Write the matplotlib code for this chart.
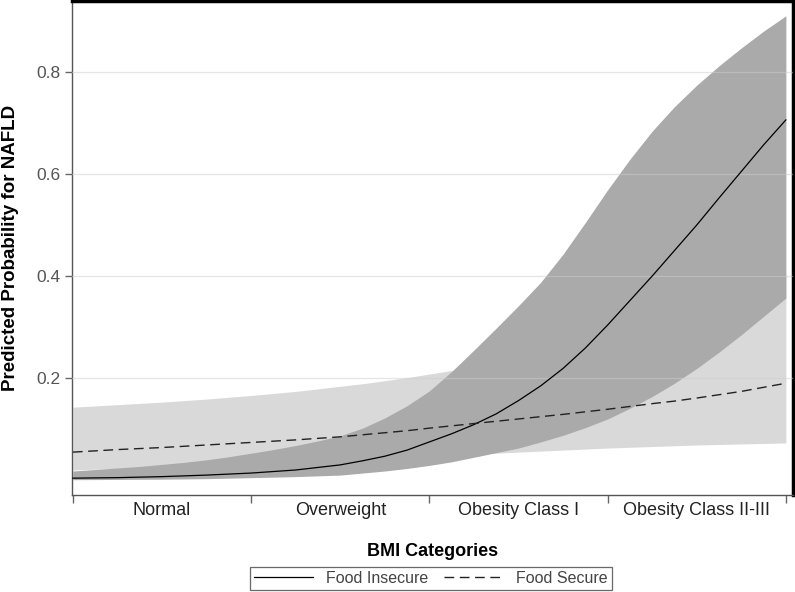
import numpy as np
from matplotlib import pyplot as plt

plt.rcParams['font.family'] = ['Liberation Sans', 'DejaVu Sans']

categories = ['Normal', 'Overweight', 'Obesity Class I', 'Obesity Class II-III']

# positions along the BMI axis (category units, 1 = Normal ... 4 = Class II-III)
bmi_pos = [0.5 + 0.125 * k for k in range(33)]

# food insecure: estimate and 95% CI
insecure_est = [0.004, 0.0045, 0.005, 0.006, 0.007, 0.0085, 0.010, 0.012, 0.014,
                0.017, 0.020, 0.025, 0.030, 0.038, 0.047, 0.059, 0.075,
                0.091, 0.109, 0.130, 0.156, 0.185, 0.219, 0.259, 0.304,
                0.352, 0.400, 0.450, 0.500, 0.553, 0.605, 0.657, 0.706]
insecure_low = [0.001, 0.0012, 0.0015, 0.0018, 0.002, 0.0025, 0.003, 0.004, 0.005,
                0.006, 0.007, 0.0085, 0.010, 0.014, 0.018, 0.023, 0.029,
                0.036, 0.045, 0.054, 0.063, 0.075, 0.088, 0.103, 0.120,
                0.141, 0.164, 0.190, 0.219, 0.251, 0.285, 0.321, 0.357]
insecure_high = [0.018, 0.021, 0.024, 0.027, 0.031, 0.035, 0.040, 0.046, 0.053,
                 0.060, 0.068, 0.077, 0.087, 0.102, 0.122, 0.146, 0.175,
                 0.213, 0.255, 0.298, 0.342, 0.388, 0.443, 0.505, 0.569,
                 0.629, 0.684, 0.732, 0.774, 0.812, 0.847, 0.880, 0.910]

# food secure: estimate and 95% CI
secure_est = [0.055, 0.0575, 0.060, 0.062, 0.064, 0.0665, 0.069, 0.0715, 0.074,
              0.0765, 0.079, 0.082, 0.085, 0.089, 0.093, 0.097, 0.102,
              0.1065, 0.111, 0.1155, 0.120, 0.1245, 0.129, 0.134, 0.139,
              0.1445, 0.150, 0.155, 0.161, 0.1675, 0.174, 0.182, 0.190]
secure_low = [0.020, 0.0215, 0.023, 0.0245, 0.026, 0.0275, 0.029, 0.030, 0.031,
              0.033, 0.035, 0.037, 0.039, 0.041, 0.043, 0.045, 0.047,
              0.049, 0.051, 0.053, 0.055, 0.057, 0.059, 0.061, 0.063,
              0.0645, 0.066, 0.0675, 0.069, 0.070, 0.071, 0.072, 0.073]
secure_high = [0.143, 0.1455, 0.148, 0.1505, 0.153, 0.156, 0.159, 0.1625, 0.166,
               0.170, 0.174, 0.179, 0.184, 0.189, 0.195, 0.201, 0.208,
               0.215, 0.222, 0.230, 0.238, 0.247, 0.256, 0.266, 0.276,
               0.288, 0.300, 0.315, 0.330, 0.347, 0.365, 0.385, 0.405]

yticks = [0.2, 0.4, 0.6, 0.8]

fig = plt.figure(figsize=(7.95, 5.92), dpi=100)
ax = fig.add_axes([72/795, 97/592, 721/795, 494/592])

ax.fill_between(bmi_pos, secure_low, secure_high, color='#d9d9d9', lw=0, zorder=1)
ax.fill_between(bmi_pos, insecure_low, insecure_high, color='#aaaaaa', lw=0, zorder=2)
ax.plot(bmi_pos, insecure_est, color='black', lw=0.9, zorder=4, label='Food Insecure')
ax.plot(bmi_pos, secure_est, color='#222222', lw=1.0, dashes=(7, 4), zorder=4, label='Food Secure')

ax.set_xlim(0.495, 4.54)
ax.set_ylim(-0.029, 0.939)

ax.set_yticks(yticks)
ax.set_yticklabels(['0.2', '0.4', '0.6', '0.8'])
for yv in yticks:
    ax.axhline(yv, color='#cccccc', lw=0.9, alpha=0.5, zorder=3)

# category labels at centres, tick marks at boundaries
ax.set_xticks([0.5, 1.5, 2.5, 3.5, 4.5])
ax.set_xticklabels([])
ax.set_xticks([1, 2, 3, 4], minor=True)
ax.set_xticklabels(categories, minor=True)
ax.tick_params(axis='x', which='minor', length=0, pad=5, labelsize=13, labelcolor='#222222')
ax.tick_params(axis='x', which='major', length=6, width=1, color='#666666')
ax.tick_params(axis='y', length=5, width=1, color='#666666', labelsize=12.5, labelcolor='#555555')

for s in ['left', 'bottom']:
    ax.spines[s].set_color('#555555')
    ax.spines[s].set_linewidth(1)
for s in ['top', 'right']:
    ax.spines[s].set_color('black')
    ax.spines[s].set_linewidth(2.5)

ax.set_xlabel('BMI Categories', fontsize=13, fontweight='bold', labelpad=17)
ax.set_ylabel('Predicted Probability for NAFLD', fontsize=13.5, fontweight='bold', labelpad=12)

leg = fig.legend(loc='lower center', bbox_to_anchor=(431/795, 2/592), ncol=2, fontsize=11.5,
                 frameon=True, fancybox=False, edgecolor='#444444', handlelength=3.7,
                 columnspacing=1.0, borderpad=0.25, handletextpad=0.8, borderaxespad=0)
leg.get_frame().set_linewidth(0.9)
for t in leg.get_texts():
    t.set_color('#444444')

fig.savefig('out.png', dpi=100)
